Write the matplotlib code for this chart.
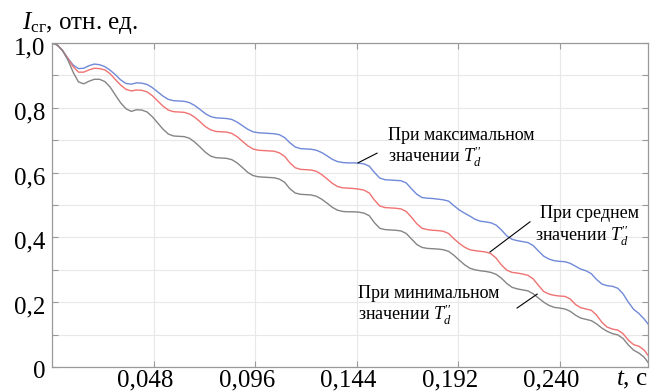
import numpy as np
import matplotlib
matplotlib.use("Agg")
import matplotlib.pyplot as plt
import matplotlib.transforms as mtransforms
from matplotlib.ticker import FuncFormatter

plt.rcParams['font.family'] = ['Liberation Serif', 'DejaVu Serif']
plt.rcParams['mathtext.fontset'] = 'custom'
plt.rcParams['mathtext.rm'] = 'Liberation Serif'
plt.rcParams['mathtext.it'] = 'Liberation Serif:italic'

# time step 0.0025 s, 0 ... 0.2825 s
t = np.arange(114) * 0.0025

i_max = [1.000, 0.994, 0.977, 0.953, 0.932, 0.921, 0.922, 0.930,
         0.935, 0.933, 0.927, 0.916, 0.902, 0.886, 0.875, 0.873,
         0.877, 0.876, 0.872, 0.862, 0.849, 0.836, 0.826, 0.822,
         0.821, 0.820, 0.816, 0.807, 0.795, 0.782, 0.773, 0.769,
         0.768, 0.767, 0.764, 0.756, 0.745, 0.734, 0.726, 0.723,
         0.722, 0.721, 0.720, 0.717, 0.708, 0.692, 0.679, 0.674,
         0.673, 0.672, 0.669, 0.662, 0.652, 0.641, 0.634, 0.631,
         0.630, 0.630, 0.629, 0.627, 0.620, 0.600, 0.583, 0.578,
         0.577, 0.576, 0.575, 0.568, 0.550, 0.533, 0.523, 0.521,
         0.520, 0.518, 0.516, 0.512, 0.498, 0.485, 0.475, 0.466,
         0.456, 0.450, 0.448, 0.445, 0.438, 0.423, 0.405, 0.394,
         0.390, 0.387, 0.384, 0.375, 0.358, 0.342, 0.333, 0.328,
         0.326, 0.325, 0.320, 0.311, 0.302, 0.297, 0.288, 0.270,
         0.256, 0.251, 0.249, 0.243, 0.226, 0.200, 0.178, 0.165,
         0.148, 0.127]

i_mid = [1.000, 0.994, 0.977, 0.952, 0.927, 0.910, 0.910, 0.917,
         0.922, 0.921, 0.917, 0.905, 0.887, 0.870, 0.857, 0.852,
         0.855, 0.854, 0.849, 0.837, 0.821, 0.805, 0.793, 0.788,
         0.787, 0.786, 0.781, 0.771, 0.757, 0.742, 0.732, 0.727,
         0.726, 0.725, 0.721, 0.711, 0.697, 0.683, 0.673, 0.669,
         0.668, 0.667, 0.666, 0.661, 0.650, 0.630, 0.615, 0.610,
         0.609, 0.608, 0.604, 0.594, 0.581, 0.567, 0.557, 0.553,
         0.552, 0.551, 0.549, 0.546, 0.537, 0.515, 0.497, 0.492,
         0.491, 0.490, 0.488, 0.480, 0.462, 0.442, 0.428, 0.424,
         0.422, 0.421, 0.419, 0.412, 0.396, 0.382, 0.370, 0.362,
         0.359, 0.357, 0.355, 0.350, 0.336, 0.315, 0.299, 0.292,
         0.290, 0.287, 0.283, 0.272, 0.252, 0.233, 0.225, 0.221,
         0.219, 0.218, 0.210, 0.193, 0.183, 0.179, 0.175, 0.160,
         0.138, 0.123, 0.117, 0.114, 0.103, 0.083, 0.069, 0.064,
         0.052, 0.030]

i_min = [1.000, 0.994, 0.976, 0.948, 0.910, 0.880, 0.874, 0.882,
         0.888, 0.888, 0.881, 0.864, 0.839, 0.815, 0.797, 0.789,
         0.794, 0.793, 0.787, 0.772, 0.753, 0.734, 0.719, 0.713,
         0.712, 0.711, 0.706, 0.694, 0.679, 0.663, 0.651, 0.646,
         0.645, 0.644, 0.640, 0.630, 0.616, 0.601, 0.591, 0.587,
         0.586, 0.585, 0.584, 0.580, 0.570, 0.550, 0.537, 0.533,
         0.532, 0.531, 0.527, 0.518, 0.506, 0.493, 0.484, 0.480,
         0.479, 0.479, 0.478, 0.475, 0.467, 0.445, 0.428, 0.424,
         0.423, 0.422, 0.420, 0.412, 0.395, 0.378, 0.369, 0.366,
         0.365, 0.364, 0.362, 0.357, 0.345, 0.330, 0.316, 0.305,
         0.300, 0.297, 0.295, 0.292, 0.286, 0.274, 0.258, 0.246,
         0.241, 0.238, 0.235, 0.226, 0.213, 0.200, 0.190, 0.184,
         0.182, 0.179, 0.172, 0.160, 0.151, 0.147, 0.143, 0.133,
         0.120, 0.110, 0.103, 0.099, 0.088, 0.068, 0.052, 0.043,
         0.030, 0.008]

x_ticks = [0.048, 0.096, 0.144, 0.192, 0.240]
y_ticks = [0.0, 0.1, 0.2, 0.3, 0.4, 0.5, 0.6, 0.7, 0.8, 0.9, 1.0]

fig = plt.figure(figsize=(6.58, 3.92), dpi=100)
ax = fig.add_axes([0.079, 0.0638, 0.9058, 0.8265])

ax.plot(t, i_max, color='#7089d8', lw=1.0)
ax.plot(t, i_mid, color='#f07272', lw=1.0)
ax.plot(t, i_min, color='#858585', lw=1.0)

ax.set_xlim(0, 0.2818)
ax.set_ylim(0, 1.0)
ax.set_xticks(x_ticks)
ax.set_yticks(y_ticks)
ax.xaxis.set_major_formatter(FuncFormatter(lambda v, p: f"{v:.3f}".replace('.', ',')))
ax.yaxis.set_major_formatter(FuncFormatter(
    lambda v, p: ('0' if abs(v) < 1e-9 else f"{v:.1f}".replace('.', ','))
    if round(v * 10) % 2 == 0 else ''))
ax.tick_params(direction='in', top=True, right=True, length=4, width=0.8,
               color='#999999', labelsize=18)
ax.tick_params(axis='x', pad=2)
ax.tick_params(axis='y', pad=5)
# tick labels in the source sit a little off their ticks
xshift = mtransforms.ScaledTranslation(-8 / 100, 0, fig.dpi_scale_trans)
for lab in ax.get_xticklabels():
    lab.set_transform(lab.get_transform() + xshift)
yshift = mtransforms.ScaledTranslation(0, -3 / 100, fig.dpi_scale_trans)
for lab in ax.get_yticklabels():
    lab.set_transform(lab.get_transform() + yshift)

ax.grid(True, color='#e8e8e8', lw=0.8)
for s in ax.spines.values():
    s.set_color('#999999')
    s.set_linewidth(0.9)

# labels
fig.text(0.033, 1 - 29 / 392, r'$I_{\mathrm{сг}}$, отн. ед.', fontsize=18,
         va='baseline', ha='left')
ax.text(1.0, -0.04, r'$t$, с', transform=ax.transAxes, fontsize=18, ha='right', va='center')

td = r'значении $T_d^{\prime\prime}$'
ann_fs = 13
# max
ax.plot([0.1447, 0.1537], [0.630, 0.660], color='black', lw=0.8)
ax.text(0.1589, 0.716, 'При максимальном', fontsize=ann_fs, va='center')
ax.text(0.1589, 0.650, td, fontsize=ann_fs, va='center')
# mid
ax.plot([0.2071, 0.2260], [0.355, 0.448], color='black', lw=0.8)
ax.text(0.2308, 0.475, 'При среднем', fontsize=ann_fs, va='center')
ax.text(0.2284, 0.406, td, fontsize=ann_fs, va='center')
# min
ax.plot([0.2294, 0.2199], [0.225, 0.182], color='black', lw=0.8)
ax.text(0.1447, 0.228, 'При минимальном', fontsize=ann_fs, va='center')
ax.text(0.1447, 0.162, td, fontsize=ann_fs, va='center')

fig.savefig('out.png', dpi=100)
